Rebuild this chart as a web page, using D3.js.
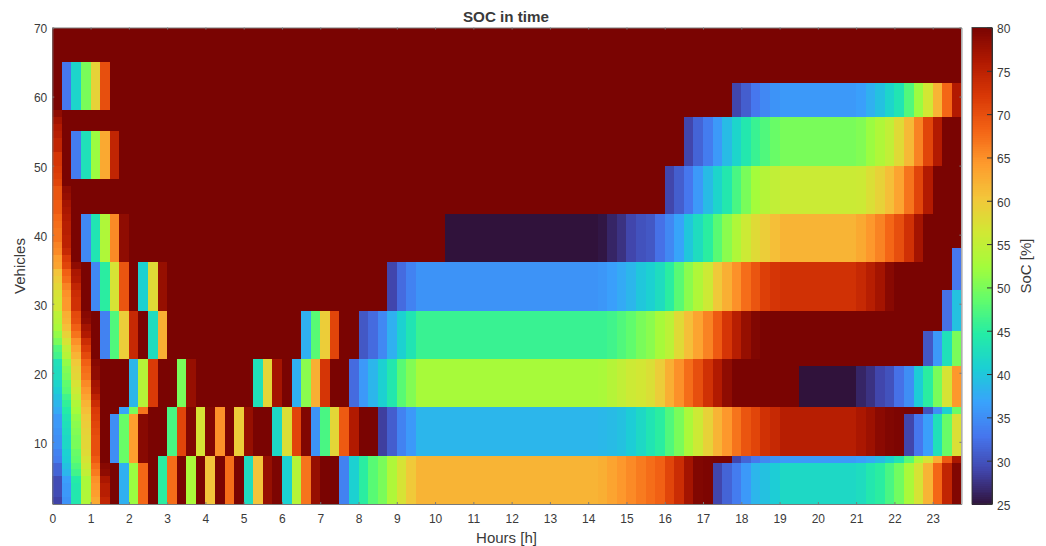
<!DOCTYPE html>
<html><head><meta charset="utf-8">
<script src="https://cdn.jsdelivr.net/npm/d3@7"></script>
<style>
html,body{margin:0;padding:0;background:#fff}
svg{display:block}
text{font-family:"Liberation Sans",Arial,sans-serif;fill:#3a3a3a}
</style></head><body>
<div id="chart"></div>
<script>
// ---- labels and axes
const titleText = "SOC in time";
const xLabel = "Hours [h]";
const yLabel = "Vehicles";
const cLabel = "SoC [%]";
const xTicks = d3.range(0, 24);
const yTicks = [10, 20, 30, 40, 50, 60, 70];
const cTicks = [25, 30, 35, 40, 45, 50, 55, 60, 65, 70, 75, 80];
const fullSoc = 80;
const rowCount = 69, colCount = 95;

// ---- turbo colormap stops
const turboStops = ["#30123b","#4145ab","#4675ed","#39a2fc","#1bcfd4","#24eca6","#61fc6c","#a4fc3b","#d1e834","#f3c63a","#fe9b2d","#f36315","#d93806","#b11901","#7a0402"];

// ---- first-hour recharge, one array per 15-min column, listed from vehicle row 1 upward
const firstCol0 = [28.8,29.5,29.5,29.5,31.5,31.5,33.5,34,35,35,35.5,36,36,37.5,38.5,39.5,40.5,41.5,42.5,42.5,43,46.5,47.5,50,51.5,53,54,54.5,56.5,56.5,57,58.5,59.5,60.5,63.5,64,65.5,66,67,67,67.5,68,69,69,69.5,69.5,71,71.5,72,72.5,72.5,74.5,74.5,75.5,76,77,78.5];
const firstCol1 = [35.5,36,36,36.5,38.5,39.5,40.5,41,42,42,42.5,43,43.5,44.5,45.5,46.5,48,48.5,50,50.5,51.5,54,55,57,59,61,62,62.5,64.5,64.5,65,66,67.5,68.5,71,72,74,75,75,75.5,75.5,76,76.5,77,78,78.5];
const firstCol2 = [44,44,44,44.5,46.5,47.5,48.5,49,50,50,50.5,51,51.5,52.5,53.5,55,56,57,58.5,59,60,62,63.5,65,67,68.5,70,70.5,73,73,73.5,74.5,76,76.5,78.5];
const firstCol3 = [53.5,53.5,53,53,55,56,57,58,58.5,58.5,59,59.5,60,61,62,63.5,64.5,65.5,67,67.5,68.5,70.5,72,73.5,76,77,78.5,79];
const firstCol4 = [63,64,64.5,65,66.5,67.5,69,70,70,70,70.5,71,71.5,72,73.5,75,76.5,77,78.5,78.5,79];
const firstCol5 = [74.5,75.5,75.5,76.5,78.5,79];

// ---- charge blocks: first row, last row, first column, then SoC per 15-min column
const block01a = [1, 6, 7, [38,52,68]];
const block07a = [7, 13, 6, [35,49,64,79]];
const block14a = [14, 14, 7, [37,50,67]];
const block15a = [15, 21, 8, [38.5,54,72,80,80,50,78]];
const block15b = [15, 21, 21, [43,58.5,77,80,38,51,62.5,72.5,80,80,32,36,38.5,41,44,48,50.5,52.8,52.8,52.8,52.8,52.8,52.8,52.8,52.8,52.8,52.8,52.8,52.8,52.8,52.8,52.8,52.8,52.8,52.8,52.8,53,54,55,56,56.5,57.5,59.5,62.5,65,67.5,70,73,76,78.5]];
const block15c = [15, 20, 78, [25,25,25,25,25,25,26.5,27.5,29,30,32.5,35,40.5,45,50,57,64.5]];
const block22a = [22, 28, 5, [34,47.5,59.5,74,80,42.5,62.5]];
const block22b = [22, 28, 26, [38,48,59.5,71,80,80,30.5,32,34.5,38,41,43.5,46,46,46,46,46,46,46,46,46,46,46,46,46,46,46,46,46,46,46,46,46.5,47.5,48.5,50,51,52.8,54.5,58,61,63.5,66,69,72.5,75.5,78,79.5]];
const block29a = [29, 35, 4, [34.5,45,57,69.5,80,41,58,78]];
const block29b = [29, 35, 35, [29,32,34,35.5,35.5,35.5,35.5,35.5,35.5,35.5,35.5,35.5,35.5,35.5,35.5,35.5,35.5,35.5,35.5,35.5,35.5,35.5,35.8,36.5,37.5,38.5,40,41,42.5,45,48,51,53.5,56,60,62.5,65,67.5,69.5,71.5,72.5,73,73,73,73,73,73,73,73,74,75.5,77,79]];
const block36a = [36, 42, 3, [34.5,43.5,53.5,65.5,78.5]];
const block36b = [36, 42, 41, [25,25,25,25,25,25,25,25,25,25,25,25,25,25,25,25,25.3,26.5,27.5,29,30,30.5,32.5,34.5,37,40,42.5,45,48,51,53.5,56,58,59.5,61,62,62,62,62,62,62,62,62,63,64.5,66,68,70,73,77]];
const block43a = [43, 49, 64, [29,31,33,36,39,41.5,44,47,50,52.5,54,55,55.8,55.8,55.8,55.8,55.8,55.8,55.8,55.8,56,57.5,59,61,63.5,67,71,76]];
const block48a = [48, 54, 2, [33.5,43,52,63,74.5]];
const block50a = [50, 56, 66, [29,31.5,33.5,36,39,41.5,44,46,47.5,49,50,50,50,50,50,50,50,50,50.5,52,53.5,55,58,61.5,66,71,76]];
const block57a = [57, 61, 71, [29,31,33,34.5,35.5,36,36,36,36,36,36,36,36,36.5,38,39.5,41.5,43.5,47.5,52,56.5,62,68,76]];
const block58a = [58, 64, 1, [33,41.5,50,59,70]];
const block01b = [1, 7, 11, [45,67.5,80,53,80,60.5,80,67.5,80,42.5,60.5,78,79.8,41,54,67,78,80,80,34,41,45,48,50,53.5,57,60,62,62,62,62,62,62,62,62,62,62,62,62,62,62,62,62,62,62,62,62.5,63.5,64.5,65.5,66.5,67.5,68.5,71,73.5,77,79.5,79.8]];
const block01c = [1, 6, 69, [29,31.5,33.5,36,38.5,39.5,40.5,42,42,42,42,42,42,42,42,42.5,44,45,47,49.5,53,57,62,68,74.5,79.5]];
const block07b = [7, 7, 71, [29,31.5,33,34.5,35.5,36,36,36,36,36,36,36,36,36.5,37.5,39,41,43.5,48,53,57,62.5,69,76.5]];
const block08a = [8, 14, 12, [47,71,79.5,57,79.5,65,80,59.5,78,80,80,42,57.5,71,79.5,35.5,47,58.5,69,76,80,80,28.5,31,34,36,38.5,38.5,38.5,38.5,38.5,38.5,38.5,38.5,38.5,38.5,38.5,38.5,38.5,38.5,38.5,38.5,38.5,38.5,38.5,38.7,39,39.5,40.5,42,43.5,45,47.5,50,53,56,59,62,64.5,67,69.5,71,73,74,75.5,75.5,75.5,75.5,75.5,75.5,75.5,75.5,76.5,77.5,78.8,79.5,79.8]];
const block08b = [8, 13, 89, [29,33,36.5,43,49,57.5]];
const block14b = [14, 14, 91, [30,35,41,49]];
const block21a = [21, 25, 91, [30.5,36,43,50]];
const block26a = [26, 31, 93, [32.5,39.5]];
const block32a = [32, 37, 94, [33]];
const blocks = [block01a,block07a,block14a,block15a,block15b,block15c,block22a,block22b,block29a,block29b,block36a,block36b,block43a,block48a,block50a,block57a,block58a,block01b,block01c,block07b,block08a,block08b,block14b,block21a,block26a,block32a];
const firstCols = [firstCol0,firstCol1,firstCol2,firstCol3,firstCol4,firstCol5];

// ---- build the SoC grid from the arrays above
const grid = d3.range(rowCount).map(() => d3.range(colCount).map(() => fullSoc));
firstCols.forEach((col, c) => col.forEach((v, r) => { grid[r][c] = v; }));
blocks.forEach(([from, to, start, vals]) => {
  for (let r = from; r <= to; r++) vals.forEach((v, i) => { grid[r - 1][start + i] = v; });
});
const cells = grid.flatMap((row, r) => row.map((v, c) => ({vehicle: r + 1, hour: c / 4, soc: v})));

// ---- layout
const W = 1046, H = 546;
const plot = {l: 52.3, r: 961.4, t: 27.5, b: 504};
const bar = {l: 972, r: 992};

const x = d3.scaleLinear().domain([0, 23.75]).range([plot.l, plot.r]);
const y = d3.scaleLinear().domain([1, 70]).range([plot.b, plot.t]);
const c = d3.scaleLinear().domain([25, 80]).range([plot.b, plot.t]);
const color = d3.scaleLinear()
  .domain(turboStops.map((_, i) => 25 + 55 * i / (turboStops.length - 1)))
  .range(turboStops).interpolate(d3.interpolateRgb).clamp(true);

const svg = d3.select("#chart").append("svg").attr("width", W).attr("height", H);

svg.append("g").attr("shape-rendering", "crispEdges").selectAll("rect").data(cells).join("rect")
  .attr("x", d => x(d.hour))
  .attr("width", d => x(d.hour + 0.25) - x(d.hour))
  .attr("y", d => y(d.vehicle + 1))
  .attr("height", d => y(d.vehicle) - y(d.vehicle + 1))
  .attr("fill", d => color(d.soc));

const axisColor = "#7a7a7a";
function style(g, size) {
  g.selectAll("path.domain").attr("stroke", axisColor);
  g.selectAll(".tick line").attr("stroke", axisColor);
  g.selectAll(".tick text").attr("font-size", size).attr("fill", "#3a3a3a")
   .attr("font-family", '"Liberation Sans",Arial,sans-serif');
}
const xAxis = svg.append("g").attr("transform", `translate(0,${plot.b})`)
  .call(d3.axisBottom(x).tickValues(xTicks).tickFormat(d3.format("d")).tickSizeInner(-2).tickSizeOuter(0).tickPadding(10));
style(xAxis, 12);
const xTop = svg.append("g").attr("transform", `translate(0,${plot.t})`)
  .call(d3.axisTop(x).tickValues(xTicks).tickFormat("").tickSizeInner(-2).tickSizeOuter(0));
style(xTop, 12);
const yAxis = svg.append("g").attr("transform", `translate(${plot.l},0)`)
  .call(d3.axisLeft(y).tickValues(yTicks).tickFormat(d3.format("d")).tickSizeInner(-2).tickSizeOuter(0).tickPadding(5));
style(yAxis, 12);
yAxis.selectAll(".tick text").attr("dy", "0.45em");
const yRight = svg.append("g").attr("transform", `translate(${plot.r},0)`)
  .call(d3.axisRight(y).tickValues(yTicks).tickFormat("").tickSizeInner(-2).tickSizeOuter(0));
style(yRight, 12);

// ---- colorbar
const levels = d3.range(0, 256);
const barValue = i => 25 + 55 * i / 256;
svg.append("g").attr("shape-rendering", "crispEdges").selectAll("rect").data(levels).join("rect")
  .attr("x", bar.l).attr("width", bar.r - bar.l)
  .attr("y", d => c(barValue(d + 1)))
  .attr("height", d => c(barValue(d)) - c(barValue(d + 1)) + 0.6)
  .attr("fill", d => color(barValue(d + 0.5)));
svg.append("rect").attr("x", bar.l).attr("y", plot.t).attr("width", bar.r - bar.l).attr("height", plot.b - plot.t)
  .attr("fill", "none").attr("stroke", "#333").attr("stroke-opacity", 0.9);
const cAxis = svg.append("g").attr("transform", `translate(${bar.r},0)`)
  .call(d3.axisRight(c).tickValues(cTicks).tickFormat(d3.format("d")).tickSizeInner(-5).tickSizeOuter(0).tickPadding(5));
cAxis.selectAll("path.domain").attr("stroke", "#333");
cAxis.selectAll(".tick line").attr("stroke", "#333");
cAxis.selectAll(".tick text").attr("font-size", 12).attr("fill", "#3a3a3a").attr("dy", "0.45em")
  .attr("font-family", '"Liberation Sans",Arial,sans-serif');

// ---- text
svg.append("text").attr("x", 506).attr("y", 21.5).attr("text-anchor", "middle")
  .attr("font-size", 15.2).attr("font-weight", "bold").attr("fill", "#1a1a1a").text(titleText);
svg.append("text").attr("x", 506.5).attr("y", 542.5).attr("text-anchor", "middle")
  .attr("font-size", 15).text(xLabel);
svg.append("text").attr("transform", "translate(25,266) rotate(-90)").attr("text-anchor", "middle")
  .attr("font-size", 15).text(yLabel);
svg.append("text").attr("transform", "translate(1031,266) rotate(-90)").attr("text-anchor", "middle")
  .attr("font-size", 15).text(cLabel);
</script>
</body></html>
